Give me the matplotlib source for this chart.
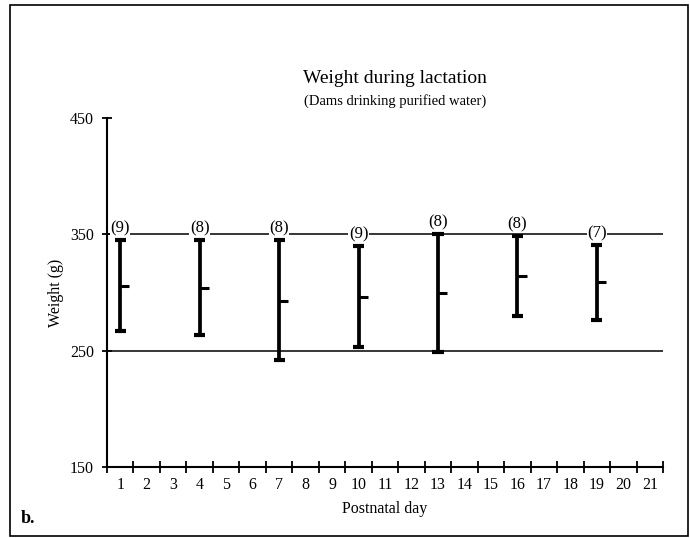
import matplotlib
matplotlib.use("Agg")
import matplotlib.pyplot as plt
from matplotlib.patches import Rectangle

plt.rcParams['font.family'] = ['Liberation Serif', 'DejaVu Serif']

days = [1, 4, 7, 10, 13, 16, 19]
means = [305.4, 303.7, 292.5, 296.0, 299.4, 313.8, 308.9]
upper = [344.8, 345.0, 345.0, 340.0, 350.0, 348.6, 340.5]
lower = [267.2, 263.5, 242.0, 252.9, 248.5, 279.3, 276.7]
n_labels = ["(9)", "(8)", "(8)", "(9)", "(8)", "(8)", "(7)"]
ref_lines = [350, 250]
y_ticks = [150, 250, 350, 450]
x_labels = [str(d) for d in range(1, 22)]

fig = plt.figure(figsize=(6.9, 5.38), dpi=100)
ax = fig.add_axes([0.155, 0.132, 0.806, 0.649])

for y in ref_lines:
    ax.axhline(y, color='black', lw=1.1, zorder=1)

for d, m, hi, lo, lab in zip(days, means, upper, lower, n_labels):
    ax.plot([d, d], [lo, hi], color='black', lw=2.7, solid_capstyle='butt', zorder=3)
    ax.plot([d - 0.21, d + 0.21], [hi, hi], color='black', lw=3.0, solid_capstyle='butt', zorder=3)
    ax.plot([d - 0.21, d + 0.21], [lo, lo], color='black', lw=3.0, solid_capstyle='butt', zorder=3)
    ax.plot([d, d + 0.35], [m, m], color='black', lw=2.2, solid_capstyle='butt', zorder=3)
    ax.text(d, hi + 10, lab, ha='center', va='center', fontsize=12,
            bbox=dict(facecolor='white', edgecolor='none', pad=0.3), zorder=4)

ax.set_xlim(0.5, 21.5)
ax.set_ylim(150, 450)
ax.spines['top'].set_visible(False)
ax.spines['right'].set_visible(False)
ax.spines['left'].set_linewidth(1.5)
ax.spines['bottom'].set_linewidth(1.5)

ax.set_yticks(y_ticks)
ax.set_yticklabels([str(v) for v in y_ticks], fontsize=11.5)
ax.tick_params(axis='y', direction='inout', length=7, width=1.3, pad=6)

ax.set_xticks([i + 0.5 for i in range(0, 22)])
ax.set_xticklabels([])
ax.tick_params(axis='x', which='major', direction='inout', length=9, width=1.3)
ax.set_xticks(list(range(1, 22)), minor=True)
ax.set_xticklabels(x_labels, minor=True, fontsize=11.5)
ax.tick_params(axis='x', which='minor', length=0, pad=7)

ax.set_xlabel("Postnatal day", fontsize=11.5, labelpad=6)
ax.set_ylabel("Weight (g)", fontsize=11.5, labelpad=4)

fig.text(0.573, 0.855, "Weight during lactation", ha='center', va='center', fontsize=14)
fig.text(0.573, 0.813, "(Dams drinking purified water)", ha='center', va='center', fontsize=10.5)
fig.text(0.03, 0.037, "b.", ha='left', va='center', fontsize=13, fontweight='bold')

fig.patches.append(Rectangle((0.0145, 0.004), 0.983, 0.987, transform=fig.transFigure,
                             fill=False, edgecolor='black', lw=1.2))

fig.savefig("out.png", dpi=100)
